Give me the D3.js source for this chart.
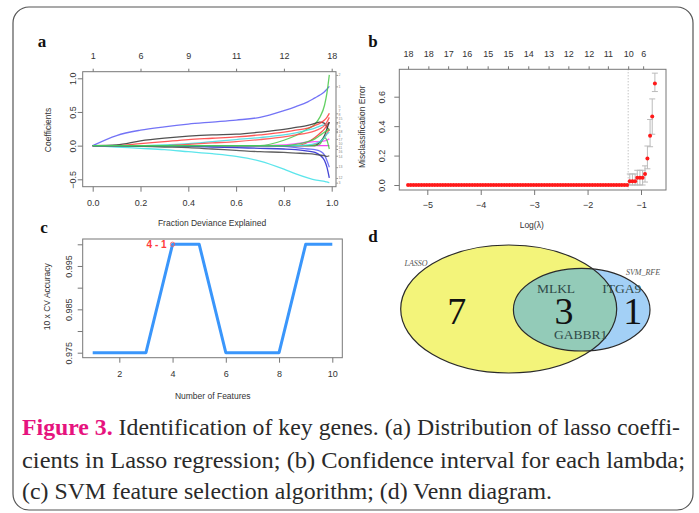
<!DOCTYPE html>
<html><head><meta charset="utf-8">
<script src="https://cdn.jsdelivr.net/npm/d3@7"></script>
<style>body{margin:0;background:#fff} svg{display:block}</style>
</head><body>
<svg id="fig" width="699" height="513"></svg>
<script>
// ---------------- DATA ----------------
// (a) lasso coefficient paths
const coefFraction = [0, 0.1, 0.2, 0.3, 0.4, 0.5, 0.6, 0.7, 0.8, 0.85, 0.9, 0.93, 0.95, 0.97, 0.98, 0.99];
const coefPaths = [
  [0, 0.15, 0.23, 0.28, 0.32, 0.35, 0.38, 0.42, 0.52, 0.58, 0.65, 0.71, 0.75, 0.80, 0.84, 0.88],
  [0, 0, 0, 0, 0, 0, 0, 0, 0.08, 0.15, 0.25, 0.32, 0.42, 0.60, 0.78, 1.05],
  [0, -0.02, -0.04, -0.06, -0.09, -0.12, -0.16, -0.23, -0.35, -0.42, -0.48, -0.51, -0.52, -0.53, -0.54, -0.55],
  [0, 0.01, 0.07, 0.11, 0.14, 0.16, 0.17, 0.20, 0.24, 0.27, 0.30, 0.33, 0.35, 0.33, 0.28, 0.22],
  [0, 0, 0.03, 0.06, 0.09, 0.11, 0.13, 0.16, 0.20, 0.23, 0.26, 0.30, 0.33, 0.38, 0.42, 0.48],
  [0, 0, 0, 0.01, 0.03, 0.06, 0.09, 0.12, 0.16, 0.19, 0.23, 0.26, 0.29, 0.31, 0.32, 0.33],
  [0, 0, 0, 0, 0.02, 0.04, 0.06, 0.09, 0.13, 0.16, 0.19, 0.22, 0.25, 0.30, 0.35, 0.42],
  [0, 0, 0, 0, 0, 0, 0, 0, 0, 0, 0.05, 0.12, 0.18, 0.25, 0.30, 0.35],
  [0, 0, 0, 0, 0, 0, 0, 0, 0, 0, 0, 0.02, 0.05, 0.12, 0.18, 0.25],
  [0, 0, 0, 0, 0, 0, 0, 0, 0.01, 0.03, 0.05, 0.06, 0.06, 0.07, 0.08, 0.10],
  [0, 0, 0, 0, 0, 0, 0, 0, 0, 0, 0, 0, 0, 0, 0, 0],
  [0, 0, 0, 0, -0.01, -0.02, -0.03, -0.04, -0.05, -0.06, -0.08, -0.10, -0.14, -0.22, -0.32, -0.48],
  [0, 0, 0, 0, 0, 0, 0, 0, -0.01, -0.03, -0.05, -0.06, -0.08, -0.14, -0.22, -0.32],
  [0, 0, -0.01, -0.02, -0.03, -0.05, -0.07, -0.09, -0.10, -0.11, -0.12, -0.13, -0.14, -0.15, -0.16, -0.15],
  [0, 0, 0, 0, 0, 0, 0, 0, 0, 0, 0, 0, 0.05, 0.15, 0.25, 0.35],
  [0, 0, 0, 0, 0, 0, 0, 0, 0, 0, 0, 0, 0.02, 0.12, 0.08, -0.05],
  [0, 0, 0, 0, 0, 0, 0, 0, 0, 0, 0.01, 0.03, 0.06, 0.12, 0.17, 0.20],
  [0, 0, 0, 0, 0, 0, 0, 0, 0, 0.02, 0.06, 0.10, 0.15, 0.20, 0.22, 0.25]
];
const coefTicks = [0, 0.2, 0.4, 0.6, 0.8, 1.0];
const coefTopLabels = ["1", "6", "9", "11", "12", "18"];
const coefYTicks = [-0.5, 0, 0.5, 1.0];

// (b) cross-validation misclassification error
const cvLogLambda = [
  -5.36,-5.31,-5.26,-5.21,-5.16,-5.11,-5.06,-5.01,-4.96,-4.91,
  -4.86,-4.81,-4.76,-4.71,-4.66,-4.61,-4.56,-4.51,-4.46,-4.41,
  -4.36,-4.31,-4.26,-4.21,-4.16,-4.11,-4.06,-4.01,-3.96,-3.91,
  -3.86,-3.81,-3.76,-3.71,-3.66,-3.61,-3.56,-3.51,-3.46,-3.41,
  -3.36,-3.31,-3.26,-3.21,-3.16,-3.11,-3.06,-3.01,-2.96,-2.91,
  -2.86,-2.81,-2.76,-2.71,-2.66,-2.61,-2.56,-2.51,-2.46,-2.41,
  -2.36,-2.31,-2.26,-2.21,-2.16,-2.11,-2.06,-2.01,-1.96,-1.91,
  -1.86,-1.81,-1.76,-1.71,-1.66,-1.61,-1.56,-1.51,-1.46,-1.41,
  -1.36,-1.31,-1.26,
  -1.21,-1.16,-1.11,-1.07,-1.02,-0.97,-0.925,-0.88,-0.83,-0.79,-0.74
];
const cvError = [
  0,0,0,0,0,0,0,0,0,0, 0,0,0,0,0,0,0,0,0,0, 0,0,0,0,0,0,0,0,0,0,
  0,0,0,0,0,0,0,0,0,0, 0,0,0,0,0,0,0,0,0,0, 0,0,0,0,0,0,0,0,0,0,
  0,0,0,0,0,0,0,0,0,0, 0,0,0,0,0,0,0,0,0,0, 0,0,0,
  0.025,0.025,0.025,0.05,0.05,0.05,0.075,0.18,0.335,0.465,0.69
];
const cvUpperFocus = [0.075,0.075,0.075,0.10,0.10,0.10,0.13,0.265,0.445,0.585,0.76];
const cvLowerFocus = [0,0,0,0,0,0,0.02,0.11,0.26,0.345,0.635];
const cvLambdaMin = -1.24;
const cvXTicks = [-5, -4, -3, -2, -1];
const cvYTicks = [0, 0.2, 0.4, 0.6];
const cvTopPos = [-5.36,-4.98,-4.61,-4.26,-3.87,-3.49,-3.11,-2.73,-2.36,-1.98,-1.62,-1.24,-0.96];
const cvTopLabels = ["18","18","17","16","15","15","14","13","12","12","11","10","6"];

// (c) SVM-RFE accuracy
const svmFeatures = [1, 2, 3, 4, 5, 6, 7, 8, 9, 10];
const svmAccuracy = [0.975, 0.975, 0.975, 1.0, 1.0, 0.975, 0.975, 0.975, 1.0, 1.0];
const svmYTicks = [0.975, 0.980, 0.985, 0.990, 0.995, 1.000];
const svmYLabels = ["0.975", "", "0.985", "", "0.995", ""];
const svmXTicks = [2, 4, 6, 8, 10];

// (d) Venn
const vennSets = ["LASSO", "SVM_RFE"];
const vennCounts = [7, 3, 1];
const vennGenes = ["MLKL", "ITGA9", "GABBR1"];

// caption
const captionLines = [
  "Identification of key genes. (a) Distribution of lasso coeffi-",
  "cients in Lasso regression; (b) Confidence interval for each lambda;",
  "(c) SVM feature selection algorithm; (d) Venn diagram."
];

// ---------------- DRAW ----------------
const svg = d3.select("#fig");
const SANS = "'Liberation Sans', Arial, sans-serif";
const SERIF = "'Liberation Serif', 'Times New Roman', serif";

svg.append("rect").attr("x", 13).attr("y", 7).attr("width", 680).attr("height", 503)
  .attr("rx", 16).attr("fill", "#fff").attr("stroke", "#555").attr("stroke-width", 1.2);

function box(x0, y0, x1, y1) {
  svg.append("rect").attr("x", x0).attr("y", y0).attr("width", x1 - x0).attr("height", y1 - y0)
    .attr("fill", "none").attr("stroke", "#777").attr("stroke-width", 1);
}
function styleAxis(g) {
  g.select(".domain").remove();
  g.selectAll("line").attr("stroke", "#777");
  g.selectAll("text").attr("font-family", SANS).attr("font-size", 9).attr("fill", "#333");
}
function rotateLeftLabels(g, baseX) {
  g.selectAll("text").attr("x", null).attr("dy", null).attr("text-anchor", "middle")
    .attr("transform", `translate(${baseX},0) rotate(-90)`);
}
function panelLetter(t, x, y) {
  svg.append("text").attr("x", x).attr("y", y).attr("text-anchor", "middle")
    .attr("font-family", SERIF).attr("font-weight", "bold").attr("font-size", 17).attr("fill", "#111").text(t);
}
function title(t, x, y, rot) {
  svg.append("text").attr("transform", `translate(${x},${y})` + (rot ? " rotate(-90)" : ""))
    .attr("text-anchor", "middle").attr("dy", "0.35em")
    .attr("font-family", SANS).attr("font-size", 8.5).attr("fill", "#333").text(t);
}

// ---- panel a ----
const aB = {x0: 82.7, y0: 71.7, x1: 336, y1: 186.7};
const xA = d3.scaleLinear().domain([0, 1]).range([92.7, 331.7]);
const yA = d3.scaleLinear().domain([-0.5, 1]).range([179.3, 78.3]);
const rCols = ["#5a5af5", "#48c848", "#40e0e8", "#333333", "#ff3a3a", "#40d8e0", "#ff4848", "#ff3030",
               "#ff5050", "#ff40ff", "#ee22ee", "#2222cc", "#5a5af5", "#444444", "#333333", "#48c848", "#40e0e8", "#48c848"];
const lineA = d3.line().x((d, i) => xA(coefFraction[i])).y(d => yA(d)).curve(d3.curveMonotoneX);
const gA = svg.append("g");
coefPaths.forEach((p, k) => {
  gA.append("path").attr("d", lineA(p)).attr("fill", "none")
    .attr("stroke", rCols[k]).attr("stroke-width", 1.3).attr("stroke-opacity", 0.85);
});
box(aB.x0, aB.y0, aB.x1, aB.y1);
styleAxis(svg.append("g").attr("transform", `translate(0,${aB.y1})`)
  .call(d3.axisBottom(xA).tickValues(coefTicks).tickFormat(d3.format(".1f")).tickSize(5).tickPadding(8)));
{
  const g = svg.append("g").attr("transform", `translate(${aB.x0},0)`)
    .call(d3.axisLeft(yA).tickValues(coefYTicks).tickFormat(d3.format(".1f")).tickSize(5));
  styleAxis(g); rotateLeftLabels(g, -6.5);
}
{
  const g = svg.append("g").attr("transform", `translate(0,${aB.y0})`)
    .call(d3.axisTop(xA).tickValues(coefTicks).tickFormat((d, i) => coefTopLabels[i]).tickSize(3).tickPadding(10));
  styleAxis(g);
}
{
  // right-hand variable index labels (tick at each path end, label de-overlapped)
  const ends = coefPaths.map((p, i) => ({i, y: yA(p[p.length - 1])})).sort((a, b) => a.y - b.y);
  const gap = 4.2;
  for (let it = 0; it < 50; it++) {
    for (let k = 1; k < ends.length; k++) {
      const d = ends[k].y - ends[k - 1].y;
      if (d < gap) { const s = (gap - d) / 2; ends[k].y += s; ends[k - 1].y -= s; }
    }
  }
  const g = svg.append("g").attr("transform", `translate(${aB.x1},0)`)
    .call(d3.axisRight(yA).tickValues(coefPaths.map(p => p[p.length - 1])).tickFormat("").tickSize(2));
  g.select(".domain").remove();
  g.selectAll("line").attr("stroke", "#999");
  ends.forEach(e => svg.append("text").attr("x", aB.x1 + 2.5).attr("y", e.y).attr("dy", "0.35em")
    .attr("font-family", SANS).attr("font-size", 3.5).attr("fill", "#888").text(String(e.i + 1)));
}
title("Fraction Deviance Explained", 212, 223, false);
title("Coefficients", 48, 130, true);
panelLetter("a", 42, 47);

// ---- panel b ----
const bB = {x0: 399.3, y0: 69.3, x1: 666, y1: 190};
const xB = d3.scaleLinear().domain([-5, -1]).range([427.3, 641]);
const yB = d3.scaleLinear().domain([0, 0.6]).range([185, 96.7]);
svg.append("line").attr("x1", xB(cvLambdaMin)).attr("x2", xB(cvLambdaMin))
  .attr("y1", bB.y0).attr("y2", bB.y1).attr("stroke", "#aaa").attr("stroke-dasharray", "1,2");
const nFlat = cvLogLambda.length - cvUpperFocus.length;
const gB = svg.append("g");
cvUpperFocus.forEach((u, i) => {
  const k = nFlat + i, x = xB(cvLogLambda[k]);
  gB.append("line").attr("x1", x).attr("x2", x).attr("y1", yB(u)).attr("y2", yB(cvLowerFocus[i]))
    .attr("stroke", "#bbb").attr("stroke-width", 1);
  [u, cvLowerFocus[i]].forEach(v => gB.append("line").attr("x1", x - 3).attr("x2", x + 3)
    .attr("y1", yB(v)).attr("y2", yB(v)).attr("stroke", "#bbb").attr("stroke-width", 1));
});
gB.selectAll("circle").data(cvLogLambda).join("circle")
  .attr("cx", d => xB(d)).attr("cy", (d, i) => yB(cvError[i])).attr("r", 2).attr("fill", "#ff1a1a");
box(bB.x0, bB.y0, bB.x1, bB.y1);
styleAxis(svg.append("g").attr("transform", `translate(0,${bB.y1})`)
  .call(d3.axisBottom(xB).tickValues(cvXTicks).tickSize(5).tickPadding(7).tickFormat(d3.format("d"))));
{
  const g = svg.append("g").attr("transform", `translate(${bB.x0},0)`)
    .call(d3.axisLeft(yB).tickValues(cvYTicks).tickFormat(d3.format(".1f")).tickSize(5));
  styleAxis(g); rotateLeftLabels(g, -14.4);
}
{
  const g = svg.append("g").attr("transform", `translate(0,${bB.y0})`)
    .call(d3.axisTop(xB).tickValues(cvTopPos).tickFormat((d, i) => cvTopLabels[i]).tickSize(3).tickPadding(9.5));
  styleAxis(g);
}
title("Misclassification Error", 361.7, 126.7, true);
title("Log(\u03bb)", 531.7, 225, false);
panelLetter("b", 373, 47);

// ---- panel c ----
const cB = {x0: 82.7, y0: 239, x1: 342.3, y1: 357.7};
const xC = d3.scaleLinear().domain([1, 10]).range([92.7, 332.3]);
const yC = d3.scaleLinear().domain([0.975, 1.0]).range([352.7, 244.3]);
svg.append("path").attr("d", d3.line().x((d, i) => xC(svmFeatures[i])).y(d => yC(d))(svmAccuracy))
  .attr("fill", "none").attr("stroke", "#3a96fb").attr("stroke-width", 3).attr("stroke-linejoin", "round");
box(cB.x0, cB.y0, cB.x1, cB.y1);
styleAxis(svg.append("g").attr("transform", `translate(0,${cB.y1})`)
  .call(d3.axisBottom(xC).tickValues(svmXTicks).tickSize(5).tickPadding(8)));
{
  const g = svg.append("g").attr("transform", `translate(${cB.x0},0)`)
    .call(d3.axisLeft(yC).tickValues(svmYTicks).tickFormat((d, i) => svmYLabels[i]).tickSize(5));
  styleAxis(g); rotateLeftLabels(g, -11.2);
}
{
  const best = svmAccuracy.indexOf(d3.max(svmAccuracy));
  const px = xC(svmFeatures[best]), py = yC(svmAccuracy[best]);
  svg.append("circle").attr("cx", px).attr("cy", py).attr("r", 2.2).attr("fill", "none")
    .attr("stroke", "#ff5555").attr("stroke-width", 0.8);
  svg.append("text").attr("x", px - 6).attr("y", py + 3.5).attr("text-anchor", "end")
    .attr("font-family", SANS).attr("font-size", 10).attr("font-weight", "bold").attr("fill", "#ff3b3b")
    .text(`${svmFeatures[best]} - ${svmAccuracy[best]}`);
}
title("Number of Features", 212.7, 395.7, false);
title("10 x CV Accuracy", 46.7, 296.7, true);
panelLetter("c", 44, 233);

// ---- panel d (Venn) ----
const gD = svg.append("g");
const eA = {cx: 508.7, cy: 309, rx: 108, ry: 64};
const eB = {cx: 581.7, cy: 309.7, rx: 68.3, ry: 41.3};
const defs = svg.append("defs");
defs.append("clipPath").attr("id", "clipA").append("ellipse")
  .attr("cx", eA.cx).attr("cy", eA.cy).attr("rx", eA.rx).attr("ry", eA.ry);
gD.append("ellipse").attr("cx", eA.cx).attr("cy", eA.cy).attr("rx", eA.rx).attr("ry", eA.ry).attr("fill", "#f3f47a");
gD.append("ellipse").attr("cx", eB.cx).attr("cy", eB.cy).attr("rx", eB.rx).attr("ry", eB.ry).attr("fill", "#a3d0f6");
gD.append("ellipse").attr("cx", eB.cx).attr("cy", eB.cy).attr("rx", eB.rx).attr("ry", eB.ry)
  .attr("fill", "#93cbb8").attr("clip-path", "url(#clipA)");
[eA, eB].forEach(e => gD.append("ellipse").attr("cx", e.cx).attr("cy", e.cy).attr("rx", e.rx).attr("ry", e.ry)
  .attr("fill", "none").attr("stroke", "#2a2a2a").attr("stroke-width", 1.2));
const countPos = [[456.7, 324], [564, 324], [632.7, 324]];
vennCounts.forEach((c, i) => gD.append("text").attr("x", countPos[i][0]).attr("y", countPos[i][1])
  .attr("text-anchor", "middle").attr("font-family", SERIF).attr("font-size", 38).attr("fill", "#111").text(c));
const genePos = [[556, 293.3], [621.7, 293.3], [580.7, 339.3]];
vennGenes.forEach((t, i) => gD.append("text").attr("x", genePos[i][0]).attr("y", genePos[i][1])
  .attr("text-anchor", "middle").attr("font-family", SERIF).attr("font-size", 13.5).attr("fill", "#2f4a48").text(t));
const setPos = [[416, 265.7], [643, 275]];
vennSets.forEach((t, i) => gD.append("text").attr("x", setPos[i][0]).attr("y", setPos[i][1])
  .attr("text-anchor", "middle").attr("font-family", SERIF).attr("font-style", "italic")
  .attr("font-size", 8).attr("fill", "#555").text(t));
panelLetter("d", 373, 241.5);

// ---- caption ----
const capY = [435, 467.5, 498.5];
const capW = [658, 663, 530];
captionLines.forEach((t, i) => {
  const tx = svg.append("text").attr("x", 22).attr("y", capY[i])
    .attr("font-family", SERIF).attr("font-size", 23).attr("fill", "#2a2a2a");
  if (i === 0) {
    tx.append("tspan").attr("font-weight", "bold").attr("fill", "#e6137e").text("Figure 3.");
    tx.append("tspan").text(" " + t);
  } else tx.text(t);
  tx.attr("textLength", capW[i]).attr("lengthAdjust", "spacingAndGlyphs");
});
</script>
</body></html>
